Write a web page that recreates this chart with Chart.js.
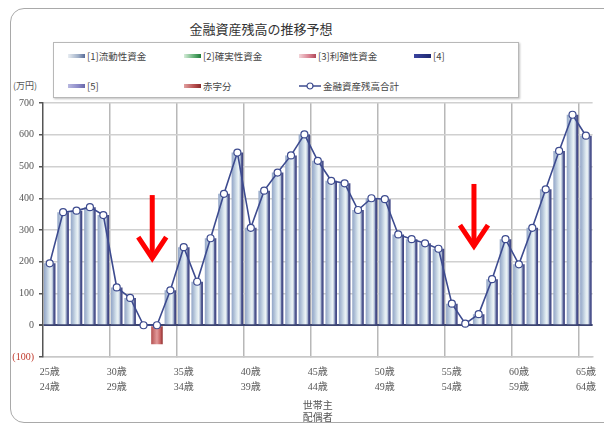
<!DOCTYPE html>
<html>
<head>
<meta charset="utf-8">
<script src="https://cdn.jsdelivr.net/npm/chart.js@4/dist/chart.umd.min.js"></script>
<style>
  html, body { margin: 0; padding: 0; background: #fff; overflow: hidden; }
  #wrap { position: relative; width: 604px; height: 425px; overflow: hidden;
          font-family: "Noto Sans CJK JP", "Noto Sans", sans-serif; }
  #frame { position: absolute; left: 10px; top: 8px; width: 660px; height: 413px;
           border: 1px solid #a9a9a9; border-radius: 14px; }
  #title { position: absolute; left: 0; width: 522px; top: 20px; text-align: center;
           font-size: 13px; color: #333; line-height: 18px; }
  #legend { position: absolute; left: 53px; top: 42px; width: 464px; height: 54px;
            border: 1px solid #b8b8b8; box-shadow: 1px 1px 2px rgba(0,0,0,.25); background: #fff; }
  .item { position: absolute; font-size: 9.5px; color: #444; line-height: 12px; white-space: nowrap; }
  .sw { display: inline-block; width: 17px; height: 4px; vertical-align: middle; margin-right: 2px; margin-top: -2px; }
  .ln { display: inline-block; vertical-align: middle; margin-right: 2px; margin-top: -2px; }
  #unit { position: absolute; left: 13px; top: 79px; font-size: 9px; color: #555; }
  canvas { position: absolute; left: 0; top: 0; }
</style>
</head>
<body>
<div id="wrap">
  <div id="frame"></div>
  <div id="title">金融資産残高の推移予想</div>
  <div id="legend"></div>
  <div id="unit">(万円)</div>
  <canvas id="chart" width="604" height="425"></canvas>
</div>
<script>
// Ages of the head of household (category axis) and of the spouse (second label line)
const householderAges = [25,26,27,28,29,30,31,32,33,34,35,36,37,38,39,40,41,42,43,44,
                         45,46,47,48,49,50,51,52,53,54,55,56,57,58,59,60,61,62,63,64,65];
const spouseAges      = [24,25,26,27,28,29,30,31,32,33,34,35,36,37,38,39,40,41,42,43,
                         44,45,46,47,48,49,50,51,52,53,54,55,56,57,58,59,60,61,62,63,64];

// [1] liquid funds (万円)
const liquidFunds = [195,356,361,372,347,119,86,0,0,110,
                     246,137,274,414,544,307,424,481,535,601,
                     518,455,447,363,400,397,286,271,258,241,
                     68,5,35,145,271,192,307,428,549,663,597];

// Deficit portion (negative balance)
const deficit = [null,null,null,null,null,null,null,null,-60,null,
                 null,null,null,null,null,null,null,null,null,null,
                 null,null,null,null,null,null,null,null,null,null,
                 null,null,null,null,null,null,null,null,null,null,null];

// Total financial assets
const totalAssets = [195,356,361,372,347,119,86,0,0,110,
                     246,137,274,414,544,307,424,481,535,601,
                     518,455,447,363,400,397,286,271,258,241,
                     68,5,35,145,271,192,307,428,549,663,597];

const seriesNames = ['[1]流動性資金','[2]確実性資金','[3]利殖性資金','[4]','[5]','赤字分','金融資産残高合計'];

const BAR_PCT = 0.86;

// Cylinder-like horizontal shading for each bar
function cylinder(stops) {
  return function (c) {
    const chart = c.chart;
    const xs = chart.scales.x;
    if (!xs || c.type !== 'data' || !chart.chartArea) return stops[0][1];
    const cw = xs.width / chart.data.labels.length;
    const w = cw * BAR_PCT;
    const cx = xs.getPixelForValue(c.dataIndex);
    const g = chart.ctx.createLinearGradient(cx - w / 2, 0, cx + w / 2, 0);
    stops.forEach(s => g.addColorStop(s[0], s[1]));
    return g;
  };
}

const blueStops = [[0,'#93a6c8'],[0.2,'#aebfd6'],[0.48,'#dce8ef'],[0.62,'#eef4f6'],
                   [0.76,'#b2c0d8'],[0.84,'#5c6498'],[1,'#343a7c']];
const redStops  = [[0,'#b45050'],[0.5,'#e29a9a'],[0.8,'#c56060'],[1,'#8c2a2a']];

// Red pointer arrows over the two low points
const arrowPlugin = {
  id: 'pointerArrows',
  afterDatasetsDraw(chart) {
    const { ctx, scales: { x, y } } = chart;
    const cw = x.width / chart.data.labels.length;
    [[7, 410, 205], [31, 445, 243]].forEach(([idx, from, to]) => {
      const px = x.getPixelForValue(idx) + cw / 2 + 2;
      const top = y.getPixelForValue(from);
      const tip = y.getPixelForValue(to);
      ctx.save();
      ctx.strokeStyle = '#ff0000';
      ctx.lineWidth = 5;
      ctx.lineJoin = 'miter';
      ctx.beginPath();
      ctx.moveTo(px, top);
      ctx.lineTo(px, tip - 2);
      ctx.stroke();
      ctx.beginPath();
      ctx.moveTo(px - 14, tip - 23);
      ctx.lineTo(px, tip - 2);
      ctx.lineTo(px + 14, tip - 23);
      ctx.stroke();
      ctx.restore();
    });
  }
};

const serif = '"Liberation Serif", "Noto Sans CJK JP", serif';

const chart = new Chart(document.getElementById('chart'), {
  type: 'bar',
  data: {
    labels: householderAges.map(String),
    datasets: [
      { label: seriesNames[0], data: liquidFunds, backgroundColor: cylinder(blueStops), stack: 'assets', order: 2 },
      { label: seriesNames[1], data: [], backgroundColor: '#3f9a5a', stack: 'assets', order: 2 },
      { label: seriesNames[2], data: [], backgroundColor: '#cc6070', stack: 'assets', order: 2 },
      { label: seriesNames[3], data: [], backgroundColor: '#26307e', stack: 'assets', order: 2 },
      { label: seriesNames[4], data: [], backgroundColor: '#7a78b8', stack: 'assets', order: 2 },
      { label: seriesNames[5], data: deficit, backgroundColor: cylinder(redStops), stack: 'assets', order: 2 },
      { label: seriesNames[6], data: totalAssets, type: 'line', stack: 'total', order: 1,
        borderColor: '#3d4b8f', borderWidth: 1.6, tension: 0,
        pointRadius: 3.5, pointBackgroundColor: '#ffffff', pointBorderColor: '#3d4b8f', pointBorderWidth: 1.2 }
    ]
  },
  options: {
    responsive: false,
    animation: false,
    layout: { padding: { top: 103, right: 7, left: 0, bottom: 0 } },
    datasets: { bar: { barPercentage: BAR_PCT, categoryPercentage: 1 } },
    plugins: { legend: { display: false }, tooltip: { enabled: false } },
    scales: {
      x: {
        stacked: true,
        offset: true,
        grid: {
          offset: true, tickLength: 0, lineWidth: 1.5,
          color: c => (c.index > 0 && c.index % 5 === 0 && c.index < householderAges.length) ? '#b8b8b8' : 'rgba(0,0,0,0)'
        },
        border: { color: '#c8c8c8', width: 1.5 },
        ticks: {
          autoSkip: false, maxRotation: 0, padding: 8, color: '#555',
          font: { family: serif, size: 10, lineHeight: 1.5 },
          callback: (v, i) => i % 5 === 0 ? [householderAges[i] + '歳', spouseAges[i] + '歳'] : ''
        },
        title: {
          display: true, text: ['世帯主', '配偶者'], color: '#555',
          font: { family: '"Noto Sans CJK JP", sans-serif', size: 10, lineHeight: 1.2 },
          padding: { top: 0, bottom: 2 }
        },
        afterFit: s => { s.height = 68; }
      },
      y: {
        stacked: true,
        min: -100, max: 700,
        ticks: {
          stepSize: 100, padding: 5,
          color: c => c.tick.value < 0 ? '#c0392b' : '#555',
          font: { family: serif, size: 10 },
          callback: v => v < 0 ? '(' + Math.abs(v) + ')' : v
        },
        grid: {
          color: c => c.tick.value === 0 ? '#3c4470' : '#d0d0d0',
          lineWidth: c => c.tick.value === 0 ? 2 : 1.5,
          tickLength: 4, tickColor: '#555'
        },
        border: { color: '#555', width: 1.5 },
        afterFit: s => { s.width = 43; }
      }
    }
  },
  plugins: [arrowPlugin]
});

// Legend laid out in a 4-column grid, built from the chart's datasets
const swatchCss = [
  'linear-gradient(90deg,#e8edf2,#a0b0c8 60%,#5a6c98)',
  'linear-gradient(90deg,#d6ecd9,#5fae73 60%,#1f7a3a)',
  'linear-gradient(90deg,#f3d4d8,#d88090 60%,#b04858)',
  'linear-gradient(90deg,#3a44a0,#1e2870)',
  'linear-gradient(90deg,#b8b8e0,#8c8ac8 60%,#6a68a8)',
  'linear-gradient(90deg,#e0a0a0,#b85050 60%,#8a2a2a)'
];
const colX = [14, 130, 245, 360];
const rowY = [7, 37];
const legend = document.getElementById('legend');
chart.data.datasets.forEach((ds, i) => {
  const el = document.createElement('div');
  el.className = 'item';
  el.style.left = colX[i % 4] + 'px';
  el.style.top = rowY[Math.floor(i / 4)] + 'px';
  let mark;
  if (ds.type === 'line') {
    mark = '<svg class="ln" width="22" height="8"><line x1="0" y1="4" x2="22" y2="4" stroke="#3d4b8f" stroke-width="1.5"/>' +
           '<circle cx="11" cy="4" r="3" fill="#fff" stroke="#3d4b8f" stroke-width="1.2"/></svg>';
  } else {
    mark = '<span class="sw" style="background:' + swatchCss[i] + '"></span>';
  }
  el.innerHTML = mark;
  el.appendChild(document.createTextNode(ds.label));
  legend.appendChild(el);
});
</script>
</body>
</html>
